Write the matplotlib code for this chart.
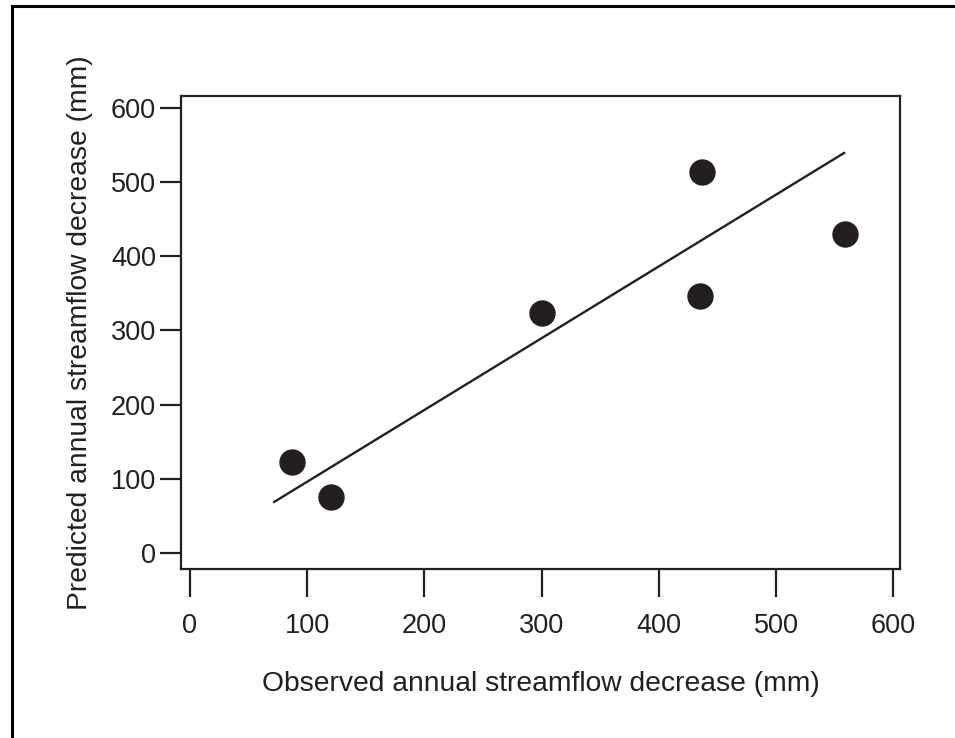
import matplotlib.pyplot as plt
from matplotlib.patches import Rectangle

plt.rcParams['font.family'] = ['Liberation Sans', 'DejaVu Sans']

# dati
observed = [87, 120, 300, 437, 435, 559]
predicted = [122, 75, 323, 514, 347, 430]
linea_x = [71, 559]
linea_y = [68, 540]
x_ticks = [0, 100, 200, 300, 400, 500, 600]
y_ticks = [0, 100, 200, 300, 400, 500, 600]

colore = '#231f20'

fig = plt.figure(figsize=(9.55, 7.38), dpi=100)
ax = fig.add_axes([0.1895, 0.229, 0.7529, 0.6409])

ax.plot(linea_x, linea_y, color=colore, lw=1.7, solid_capstyle='butt')
ax.plot(observed, predicted, 'o', color=colore, markersize=19, markeredgewidth=0)

ax.set_xlim(-7.7, 605.8)
ax.set_ylim(-21.6, 615.9)
ax.set_xticks(x_ticks)
ax.set_yticks(y_ticks)

for s in ax.spines.values():
    s.set_linewidth(1.6)
    s.set_color(colore)

ax.tick_params(axis='x', direction='out', length=20, width=1.6, color=colore,
               labelsize=19.5, pad=12, labelcolor=colore)
ax.tick_params(axis='y', direction='out', length=15, width=1.6, color=colore,
               labelsize=19.5, pad=3, labelcolor=colore)

ax.set_xlabel("Observed annual streamflow decrease (mm)", fontsize=20.3, color=colore, labelpad=23)
ax.set_ylabel("Predicted annual streamflow decrease (mm)", fontsize=20.3, color=colore, labelpad=13)

# cornice esterna
bordo = Rectangle((12 / 955, -0.1), 1.2, 1 - 6 / 738 + 0.1, transform=fig.transFigure,
                  fill=False, lw=2.2, edgecolor='black')
fig.patches.append(bordo)

fig.savefig("out.png", dpi=100)
plt.close()
